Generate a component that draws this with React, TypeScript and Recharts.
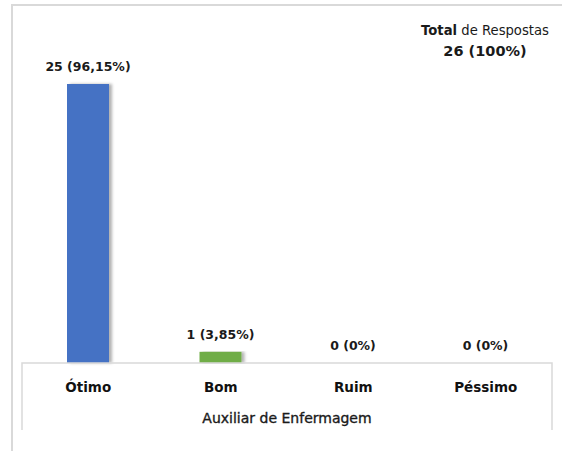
import { BarChart, Bar, XAxis, YAxis, LabelList, Cell } from "recharts";

const categories = ["Ótimo", "Bom", "Ruim", "Péssimo"];
const counts = [25, 1, 0, 0];
const percents = ["96,15%", "3,85%", "0%", "0%"];
const barColors = ["#4472C4", "#70AD47", "#A5A5A5", "#FFC000"];
const axisTitle = "Auxiliar de Enfermagem";
const totalCount = 26;
const totalPercent = "100%";

const W = 562;
const H = 451;
const margin = { top: 84, right: 10, bottom: 21, left: 22 };
const axisHeight = 67;
const font = "'DejaVu Sans', sans-serif";
const frameColor = "#d9d9d9";
const textColor = "#1a1a1a";

const data = categories.map((name, i) => ({
  name,
  value: counts[i],
  label: `${counts[i]} (${percents[i]})`,
}));

// bar with a soft shadow on its right side, like the office export
function ShadowBar(props: any) {
  const { x, y, width, height, fill, index } = props;
  if (!height || height <= 0) return null;
  const id = `bar-shadow-${index}`;
  return (
    <g>
      <defs>
        <filter id={id} x="-30%" y="-5%" width="160%" height="110%">
          <feDropShadow dx="3" dy="0" stdDeviation="1.5" floodColor="#000" floodOpacity="0.3" />
        </filter>
      </defs>
      <rect x={x} y={y} width={width} height={height} fill={fill} filter={`url(#${id})`} />
    </g>
  );
}

// single-line value label above each bar (no wrapping to bar width)
function BarLabel(props: any) {
  const { x, y, width, value } = props;
  return (
    <text
      x={Number(x) + Number(width) / 2}
      y={Number(y) - 13}
      textAnchor="middle"
      fill={textColor}
      fontSize={12.5}
      fontWeight={700}
      fontFamily={font}
    >
      {value}
    </text>
  );
}

export default function App() {
  const plotLeft = margin.left;
  const plotRight = W - margin.right;
  const axisTop = H - margin.bottom - axisHeight;
  const axisBottom = H - margin.bottom;

  return (
    <div
      style={{
        position: "absolute",
        left: 0,
        top: 0,
        width: W,
        height: H,
        background: "#fff",
        overflow: "hidden",
        fontFamily: font,
      }}
    >
      {/* outer chart border (only left and top are visible in the crop) */}
      <div
        style={{
          position: "absolute",
          left: 11,
          top: 4,
          width: W + 20,
          height: H + 20,
          border: `2px solid ${frameColor}`,
          boxSizing: "border-box",
        }}
      />
      <div style={{ position: "absolute", left: 0, top: 0 }}>
        <BarChart width={W} height={H} data={data} margin={margin} barSize={42}>
          <XAxis
            dataKey="name"
            height={axisHeight}
            axisLine={false}
            tickLine={false}
            tickSize={0}
            tickMargin={19}
            tick={{ fill: "#111", fontSize: 13.5, fontWeight: 700, fontFamily: font }}
            label={{
              value: axisTitle,
              position: "insideBottom",
              offset: 7,
              fill: textColor,
              stroke: textColor,
              strokeWidth: 0.35,
              fontSize: 14,
              fontFamily: font,
            }}
          />
          <YAxis hide domain={[0, 25]} />
          <Bar dataKey="value" shape={<ShadowBar />} isAnimationActive={false}>
            {data.map((d, i) => (
              <Cell key={d.name} fill={barColors[i]} />
            ))}
            <LabelList dataKey="label" content={<BarLabel />} />
          </Bar>
        </BarChart>
      </div>
      {/* category frame + total header */}
      <svg
        width={W}
        height={H}
        style={{ position: "absolute", left: 0, top: 0, pointerEvents: "none" }}
      >
        <polyline
          points={`${plotLeft},${axisBottom} ${plotLeft},${axisTop} ${plotRight},${axisTop} ${plotRight},${axisBottom}`}
          fill="none"
          stroke={frameColor}
          strokeWidth={1.5}
        />
        <text x={485} y={35} textAnchor="middle" fontSize={13.2} fill={textColor} fontFamily={font}>
          <tspan fontWeight={700}>Total</tspan>
          <tspan> de Respostas</tspan>
        </text>
        <text
          x={485}
          y={56}
          textAnchor="middle"
          fontSize={14.5}
          fontWeight={700}
          fill={textColor}
          fontFamily={font}
        >
          {`${totalCount} (${totalPercent})`}
        </text>
      </svg>
    </div>
  );
}
